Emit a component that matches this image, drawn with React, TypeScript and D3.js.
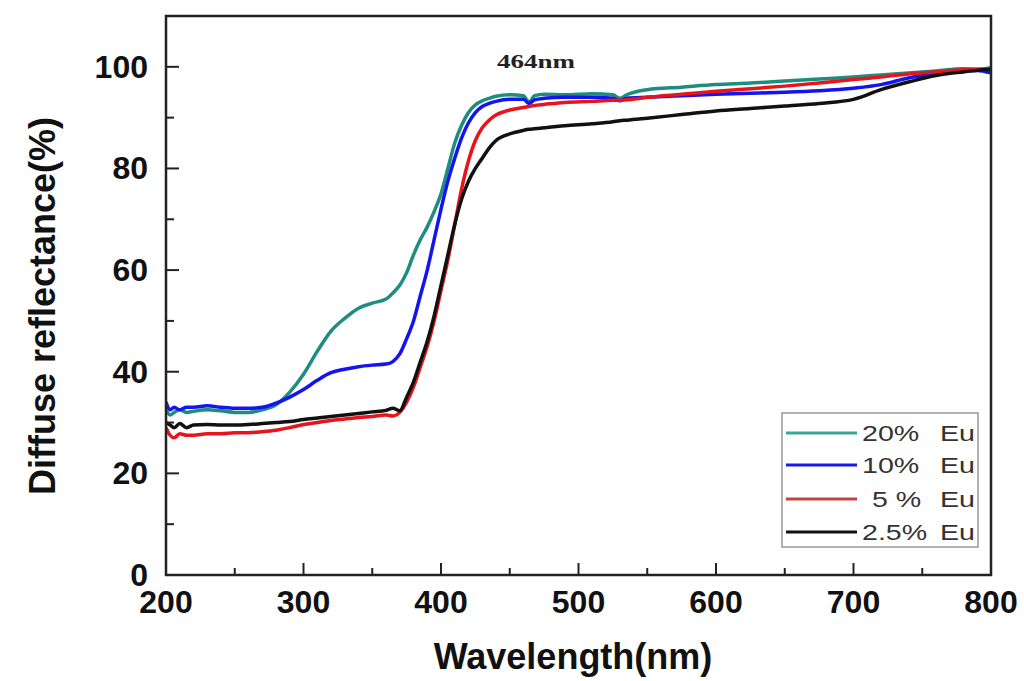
import React from "react";
import * as d3 from "d3";

const wavelengths = [200, 203, 206, 210, 215, 220, 230, 240, 250, 260, 270, 280, 290, 300, 310, 320, 330, 340, 350, 360, 365, 370, 375, 380, 385, 390, 395, 400, 405, 410, 415, 420, 425, 430, 435, 440, 450, 460, 464, 468, 475, 490, 510, 525, 530, 535, 550, 575, 600, 625, 650, 675, 700, 720, 740, 760, 780, 790, 800];

const eu20 = [32.5, 31.5, 32, 32.5, 32, 32.2, 32.5, 32.3, 32, 32, 32.5, 33.5, 36, 39.5, 44, 48, 50.5, 52.5, 53.5, 54.3, 55.5, 57, 59.5, 63, 66, 68.5, 71.5, 75, 80, 85, 88.5, 91, 92.5, 93.3, 93.8, 94.2, 94.5, 94.3, 93, 94.3, 94.6, 94.5, 94.7, 94.5, 93.8, 94.5, 95.5, 96, 96.5, 96.8, 97.2, 97.6, 98, 98.4, 98.8, 99.2, 99.6, 99.5, 99.8];

const eu10 = [34, 32.5, 33, 32.5, 33, 33, 33.3, 33, 32.8, 32.8, 33, 33.8, 35, 36.5, 38.3, 39.8, 40.5, 41, 41.3, 41.5, 42, 43.5, 46.5, 50, 55, 60, 66, 72, 77.5, 82, 86, 89, 91, 92.2, 92.8, 93.2, 93.6, 93.6, 92.8, 93.5, 93.8, 94, 94, 93.8, 93.3, 93.8, 94, 94.3, 94.6, 94.8, 95, 95.3, 95.8, 96.5, 97.8, 98.6, 99.2, 99.3, 98.8];

const eu5 = [29, 27.5, 27, 27.8, 27.5, 27.5, 27.8, 27.8, 28, 28, 28.2, 28.5, 29, 29.6, 30, 30.4, 30.7, 31, 31.2, 31.5, 31.3, 32, 34, 37, 41, 45, 50, 56, 62, 69, 76, 81.5, 85.5, 88, 89.5, 90.5, 91.5, 92, 92.2, 92.4, 92.6, 93, 93.2, 93.4, 93.4, 93.5, 94, 94.6, 95.2, 95.7, 96.2, 96.8, 97.5, 98, 98.6, 99, 99.4, 99.5, 99.5];

const eu25 = [30, 29.5, 29, 29.8, 29, 29.5, 29.6, 29.5, 29.5, 29.6, 29.8, 30, 30.2, 30.6, 30.9, 31.2, 31.5, 31.8, 32.1, 32.4, 32.8, 32.3, 35, 38, 42, 46, 51, 57, 63, 69, 74, 77.5, 80, 82, 84, 85.5, 86.8, 87.5, 87.7, 87.8, 88, 88.4, 88.8, 89.2, 89.4, 89.5, 89.9, 90.6, 91.3, 91.8, 92.3, 92.8, 93.6, 95.5, 97, 98.3, 99, 99.3, 99.5];

const seriesNames = ["20%", "10%", "5 %", "2.5%"];
const seriesValues = [eu20, eu10, eu5, eu25];
const seriesColors = ["#1e8c7e", "#1414f0", "#e8141b", "#111111"];
const legendColors = ["#3aa596", "#1a1ae0", "#c04444", "#111111"];
const legendUnit = "Eu";

const xTicks = [200, 300, 400, 500, 600, 700, 800];
const xMinorTicks = [250, 350, 450, 550, 650, 750];
const yTicks = [0, 20, 40, 60, 80, 100];
const yMinorTicks = [10, 30, 50, 70, 90];

const xTitle = "Wavelength(nm)";
const yTitle = "Diffuse reflectance(%)";
const annotation = "464nm";

export default function App() {
  const left = 166, right = 991, top = 16, bottom = 575;
  const x = d3.scaleLinear().domain([200, 800]).range([left, right]);
  const y = d3.scaleLinear().domain([0, 110]).range([bottom, top]);
  const line = d3
    .line<number>()
    .x((_, i) => x(wavelengths[i]))
    .y((d) => y(d))
    .curve(d3.curveMonotoneX);

  const font = "'Liberation Sans', Arial, sans-serif";
  const legendX = 782, legendY = 413, legendW = 196, legendH = 134;
  const legendRows = [433, 465, 499, 532];
  const pctStart = [862, 862, 872, 862];

  return (
    <svg width={1024} height={681} style={{ position: "absolute", left: 0, top: 0, background: "#fff" }}>
      <defs>
        <clipPath id="plotclip">
          <rect x={left} y={top} width={right - left} height={bottom - top} />
        </clipPath>
      </defs>
      <rect x={0} y={0} width={1024} height={681} fill="#fff" />
      <g clipPath="url(#plotclip)">
        {seriesValues.map((vals, i) => (
          <path
            key={i}
            d={line(vals) || ""}
            fill="none"
            stroke={seriesColors[i]}
            strokeWidth={3.5}
            strokeLinejoin="round"
          />
        ))}
      </g>
      {/* ticks */}
      {xTicks.map((t) => (
        <line key={"xt" + t} x1={x(t)} x2={x(t)} y1={bottom} y2={bottom - 12} stroke="#222" strokeWidth={2} />
      ))}
      {xMinorTicks.map((t) => (
        <line key={"xm" + t} x1={x(t)} x2={x(t)} y1={bottom} y2={bottom - 7} stroke="#222" strokeWidth={2} />
      ))}
      {yTicks.map((t) => (
        <line key={"yt" + t} x1={left} x2={left + 13} y1={y(t)} y2={y(t)} stroke="#222" strokeWidth={2} />
      ))}
      {yMinorTicks.map((t) => (
        <line key={"ym" + t} x1={left} x2={left + 8} y1={y(t)} y2={y(t)} stroke="#222" strokeWidth={2} />
      ))}
      <rect x={left} y={top} width={right - left} height={bottom - top} fill="none" stroke="#222" strokeWidth={2.5} />
      {/* tick labels */}
      {xTicks.map((t) => (
        <text key={"xl" + t} x={x(t)} y={613} textAnchor="middle" fontFamily={font} fontWeight="bold" fontSize={32} fill="#111">
          {t}
        </text>
      ))}
      {yTicks.map((t) => (
        <text key={"yl" + t} x={148} y={y(t) + 11} textAnchor="end" fontFamily={font} fontWeight="bold" fontSize={32} fill="#111">
          {t}
        </text>
      ))}
      {/* axis titles */}
      <text x={573} y={669} textAnchor="middle" fontFamily={font} fontWeight="bold" fontSize={36} fill="#111">
        {xTitle}
      </text>
      <text
        transform={`translate(55,306) rotate(-90)`}
        textAnchor="middle"
        fontFamily={font}
        fontWeight="bold"
        fontSize={36}
        fill="#111"
      >
        {yTitle}
      </text>
      {/* annotation */}
      <text x={497} y={68} fontFamily="'Liberation Serif', 'Times New Roman', serif" fontWeight="bold" fontSize={19} textLength={78} lengthAdjust="spacingAndGlyphs" fill="#222">
        {annotation}
      </text>
      {/* legend */}
      <rect x={legendX} y={legendY} width={legendW} height={legendH} fill="#fff" stroke="#999" strokeWidth={1.5} />
      {seriesNames.map((name, i) => (
        <g key={"lg" + i}>
          <line x1={786} x2={857} y1={legendRows[i]} y2={legendRows[i]} stroke={legendColors[i]} strokeWidth={3} />
          <text transform={`translate(${pctStart[i]},${legendRows[i] + 8}) scale(1.3,1)`} fontFamily={font} fontSize={22} fill="#333">
            {name}
          </text>
          <text transform={`translate(940,${legendRows[i] + 8}) scale(1.3,1)`} fontFamily={font} fontSize={22} fill="#333">
            {legendUnit}
          </text>
        </g>
      ))}
    </svg>
  );
}
